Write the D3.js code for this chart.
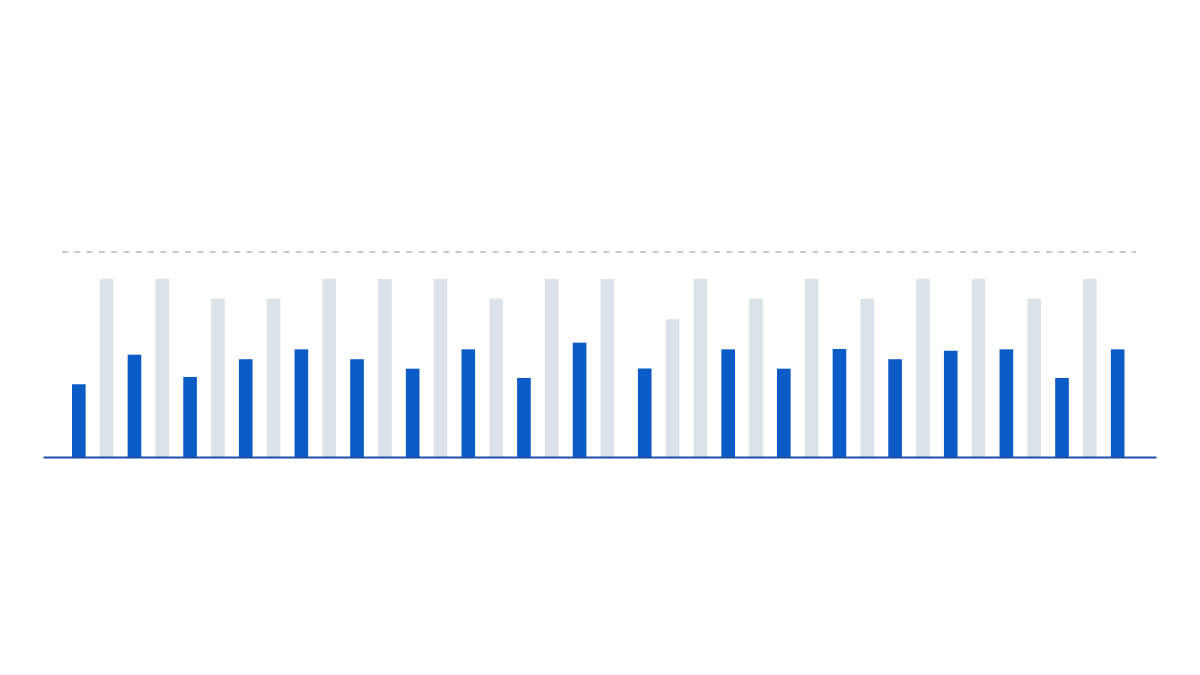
<!DOCTYPE html>
<html>
<head>
<meta charset="utf-8">
<script src="https://cdn.jsdelivr.net/npm/d3@7"></script>
<style>
  html, body { margin: 0; padding: 0; background: #ffffff; }
  svg { display: block; }
</style>
</head>
<body>
<svg id="chart" width="1200" height="675"></svg>
<script>
// ---- data ----
const barSeries = ["actual","target","actual","target","actual","target","actual","target","actual","target",
                   "actual","target","actual","target","actual","target","actual","target","actual","target",
                   "actual","target","target","actual","target","actual","target","actual","target","actual",
                   "target","actual","target","actual","target","actual","target","actual"];
const barValues = [3.69, 9.03, 5.19, 9.03, 4.06, 8.03, 4.96, 8.03, 5.46, 9.03,
                   4.96, 9.03, 4.48, 9.03, 5.46, 8.03, 4.01, 9.03, 5.80, 9.03,
                   4.49, 6.99, 9.03, 5.46, 8.03, 4.48, 9.03, 5.48, 8.03, 4.96,
                   9.03, 5.39, 9.03, 5.46, 8.03, 4.01, 9.03, 5.46];
const sectionSizes = [20, 18];
const referenceValue = 10.4;
const yMax = 10.4;

// ---- layout ----
const svg = d3.select("#chart");
const baseY = 457;
const topY = 252;
const axisX0 = 43, axisX1 = 1156;
const barsX0 = 72;
const step = 27.82;
const padInner = 0.51;
const sectionGap = 9.5;

const ids = barValues.map((_, i) => i);
const sectionOf = i => (i < sectionSizes[0] ? 0 : 1);

const x = d3.scaleBand()
  .domain(ids)
  .range([barsX0, barsX0 + step * (ids.length - padInner)])
  .paddingInner(padInner)
  .paddingOuter(0);

const y = d3.scaleLinear().domain([0, yMax]).range([baseY, topY]);

const colors = { actual: "#0a5bc5", target: "#dbe2ea" };

// reference dashed line
svg.append("line")
  .attr("x1", 62).attr("x2", 1136)
  .attr("y1", y(referenceValue)).attr("y2", y(referenceValue))
  .attr("stroke", "#b6babf")
  .attr("stroke-width", 1.5)
  .attr("stroke-dasharray", "6,6.3");

// bars
svg.append("g").selectAll("rect")
  .data(ids)
  .join("rect")
  .attr("x", i => x(i) + sectionOf(i) * sectionGap)
  .attr("y", i => y(barValues[i]))
  .attr("width", x.bandwidth())
  .attr("height", i => y(0) - y(barValues[i]))
  .attr("fill", i => colors[barSeries[i]]);

// baseline axis
const xAxisScale = d3.scaleLinear().domain([0, 1]).range([axisX0, axisX1]);
const axisG = svg.append("g").attr("transform", `translate(0,${baseY})`)
  .call(d3.axisBottom(xAxisScale).ticks(0).tickSize(0).tickFormat(""));
axisG.select(".domain").attr("stroke", "#1e4fa8").attr("stroke-width", 2);
</script>
</body>
</html>
